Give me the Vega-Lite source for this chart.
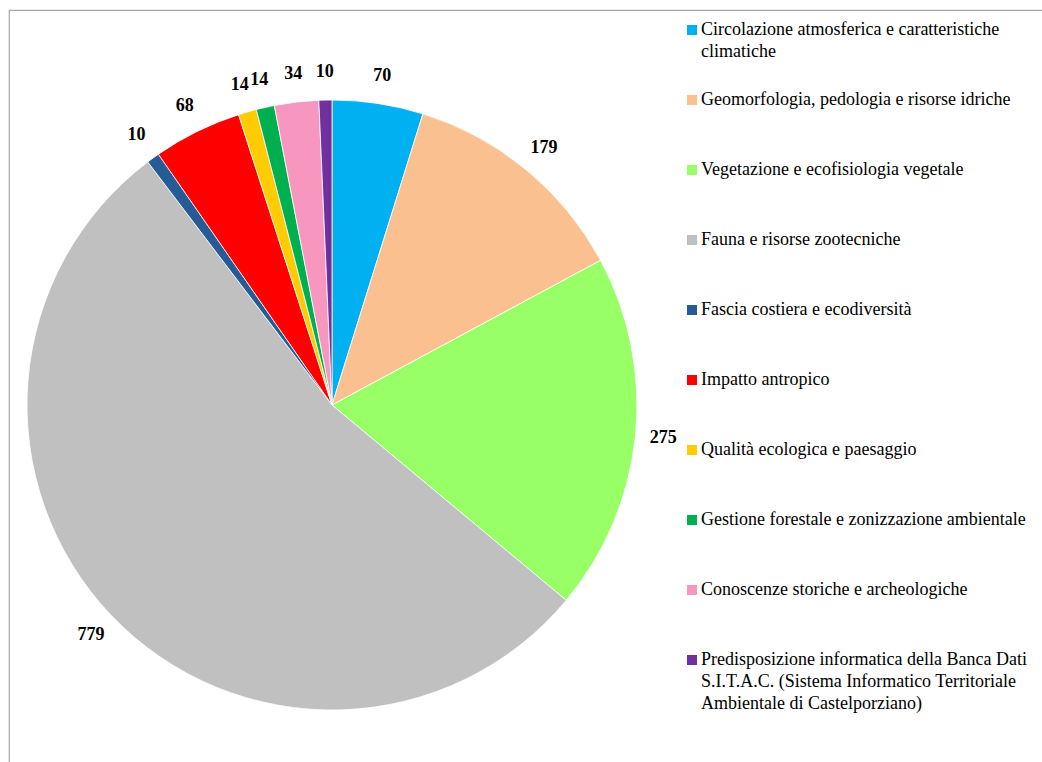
{
  "$schema": "https://vega.github.io/schema/vega-lite/v6.json",
  "autosize": "none",
  "width": 1040,
  "height": 760,
  "padding": {"left": 9, "top": 10, "right": 0, "bottom": 0},
  "background": "white",
  "view": {"stroke": "#a6a6a6", "strokeWidth": 1.2, "fill": "white"},
  "config": {
    "view": {"stroke": "#a6a6a6", "strokeWidth": 1.2},
    "font": "Liberation Serif",
    "style": {"guide-label": {"lineHeight": 22}}
  },
  "data": {
    "values": [
      {"idx": 1, "categoria": "Circolazione atmosferica e caratteristiche climatiche", "valore": 70},
      {"idx": 2, "categoria": "Geomorfologia, pedologia e risorse idriche", "valore": 179},
      {"idx": 3, "categoria": "Vegetazione e ecofisiologia vegetale", "valore": 275},
      {"idx": 4, "categoria": "Fauna e risorse zootecniche", "valore": 779},
      {"idx": 5, "categoria": "Fascia costiera e ecodiversità", "valore": 10},
      {"idx": 6, "categoria": "Impatto antropico", "valore": 68},
      {"idx": 7, "categoria": "Qualità ecologica e paesaggio", "valore": 14},
      {"idx": 8, "categoria": "Gestione forestale e zonizzazione ambientale", "valore": 14},
      {"idx": 9, "categoria": "Conoscenze storiche e archeologiche", "valore": 34},
      {"idx": 10, "categoria": "Predisposizione informatica della Banca Dati S.I.T.A.C. (Sistema Informatico Territoriale Ambientale di Castelporziano)", "valore": 10}
    ]
  },
  "encoding": {
    "theta": {"field": "valore", "type": "quantitative", "stack": true},
    "order": {"field": "idx", "type": "quantitative"},
    "color": {
      "field": "categoria",
      "type": "nominal",
      "sort": null,
      "scale": {
        "domain": [
          "Circolazione atmosferica e caratteristiche climatiche",
          "Geomorfologia, pedologia e risorse idriche",
          "Vegetazione e ecofisiologia vegetale",
          "Fauna e risorse zootecniche",
          "Fascia costiera e ecodiversità",
          "Impatto antropico",
          "Qualità ecologica e paesaggio",
          "Gestione forestale e zonizzazione ambientale",
          "Conoscenze storiche e archeologiche",
          "Predisposizione informatica della Banca Dati S.I.T.A.C. (Sistema Informatico Territoriale Ambientale di Castelporziano)"
        ],
        "range": ["#00B0F0", "#FAC090", "#99FF66", "#C0C0C0", "#265B96", "#FF0000", "#FFCC00", "#00B050", "#F797C0", "#7030A0"]
      },
      "legend": {
        "title": null,
        "orient": "none",
        "legendX": 674,
        "legendY": 11,
        "direction": "vertical",
        "gridAlign": "all",
        "symbolType": "square",
        "symbolSize": 100,
        "symbolStrokeWidth": 0,
        "symbolOffset": 0,
        "labelOffset": 0,
        "labelFont": "Liberation Serif",
        "labelFontSize": 18,
        "labelColor": "#000000",
        "labelLimit": 400,
        "rowPadding": 8,
        "padding": 0,
        "labelExpr": "indexof(datum.label,'Circolazione')==0 ? ['Circolazione atmosferica e caratteristiche','climatiche'] : indexof(datum.label,'Predisposizione')==0 ? ['Predisposizione informatica della Banca Dati','S.I.T.A.C. (Sistema Informatico Territoriale','Ambientale di Castelporziano)'] : datum.label"
      }
    }
  },
  "layer": [
    {
      "mark": {"type": "arc", "outerRadius": 305, "x": 323, "y": 395, "stroke": "#ffffff", "strokeWidth": 0.8}
    },
    {
      "mark": {"type": "text", "radius": 333, "x": 323, "y": 395, "font": "Liberation Serif", "fontSize": 18, "fontWeight": "bold"},
      "encoding": {
        "text": {"field": "valore", "type": "quantitative"},
        "color": {"value": "#000000"}
      }
    }
  ]
}
